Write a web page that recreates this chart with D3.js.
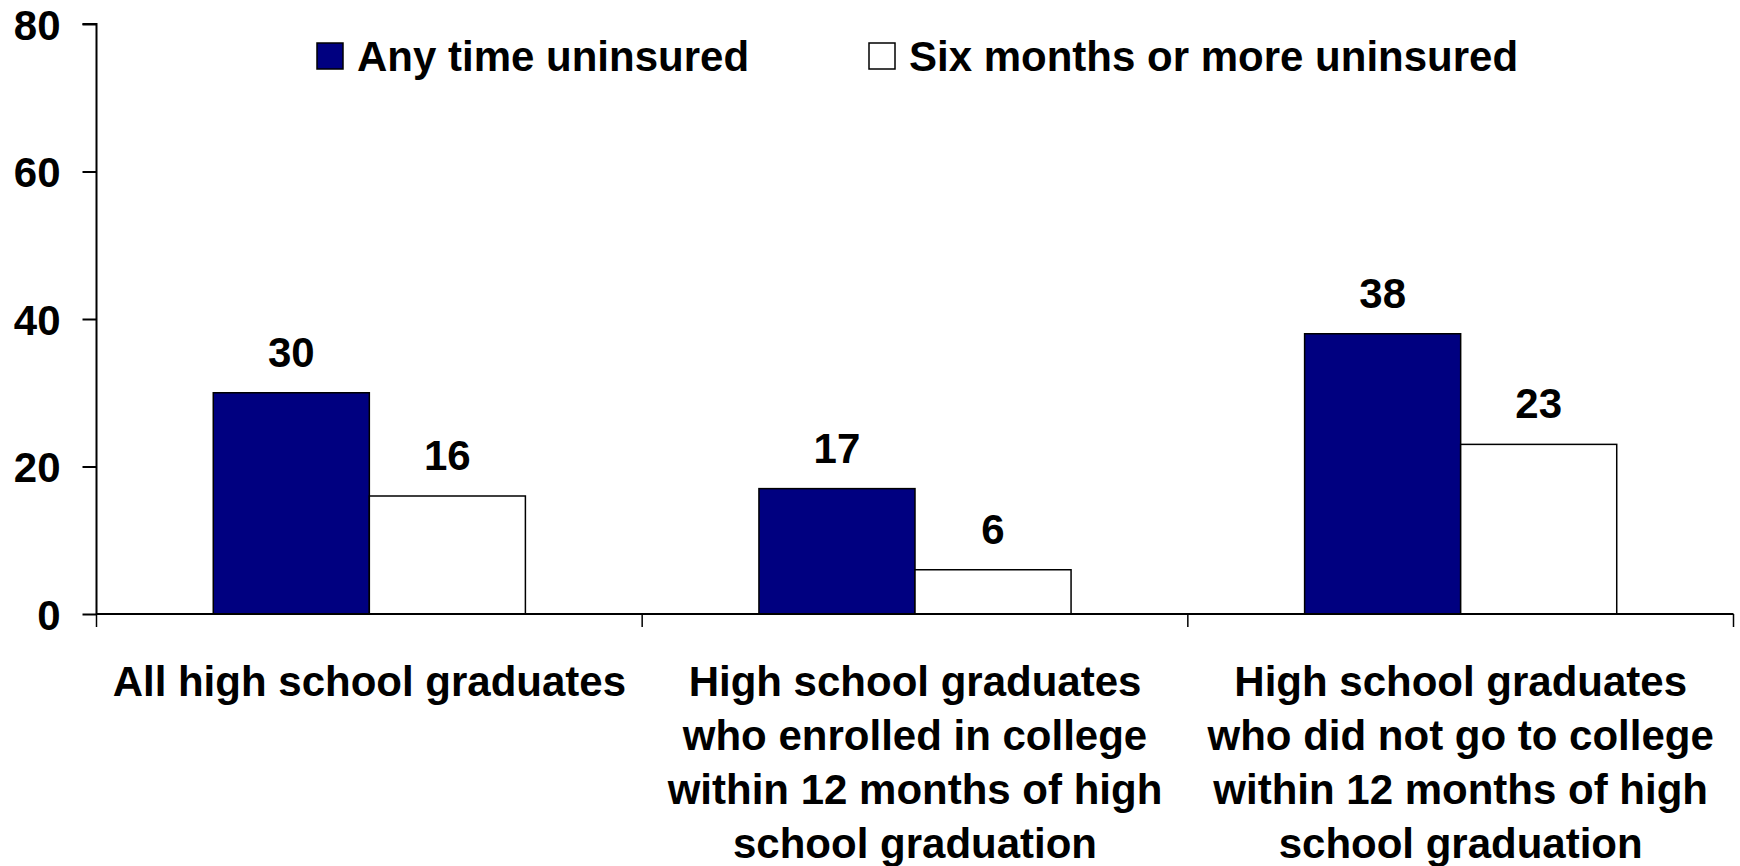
<!DOCTYPE html>
<html>
<head>
<meta charset="utf-8">
<script src="https://cdn.jsdelivr.net/npm/d3@7"></script>
<style>
  body { margin: 0; background: #fff; }
  svg text { font-family: "Liberation Sans", Arial, sans-serif; font-weight: bold; fill: #000; }
</style>
</head>
<body>
<svg id="chart" width="1740" height="866"></svg>
<script>
// data
const categories = ['All high school graduates', 'College within 12 months', 'No college within 12 months'];
const categoryLines = [
  ['All high school graduates'],
  ['High school graduates', 'who enrolled in college', 'within 12 months of high', 'school graduation'],
  ['High school graduates', 'who did not go to college', 'within 12 months of high', 'school graduation']
];
const seriesNames = ['Any time uninsured', 'Six months or more uninsured'];
const anyTime = [30, 17, 38];
const sixMonths = [16, 6, 23];
const yTicks = [0, 20, 40, 60, 80];

const colors = ['#000080', '#ffffff'];

const svg = d3.select('#chart');
const plotLeft = 96.5, plotRight = 1733.5, plotTop = 24, plotBottom = 614;

const y = d3.scaleLinear().domain([0, 80]).range([plotBottom, plotTop]);
const x = d3.scaleBand().domain(categories).range([plotLeft, plotRight]).padding(0);
const bw = x.bandwidth();
const gap = bw * 0.214;
const x1 = d3.scaleBand().domain(seriesNames).range([gap, bw - gap]).padding(0);

const rows = categories.map((c, i) => ({ cat: c, vals: [anyTime[i], sixMonths[i]] }));

// bars
const groups = svg.selectAll('.group').data(rows).enter().append('g')
    .attr('class', 'group')
    .attr('transform', d => `translate(${x(d.cat)},0)`);

groups.selectAll('rect').data(d => d.vals.map((v, k) => ({ v, k })))
  .enter().append('rect')
    .attr('x', d => x1(seriesNames[d.k]))
    .attr('y', d => y(d.v))
    .attr('width', x1.bandwidth())
    .attr('height', d => y(0) - y(d.v))
    .style('fill', d => colors[d.k])
    .style('stroke', '#000')
    .style('stroke-width', 1.5);

groups.selectAll('.val').data(d => d.vals.map((v, k) => ({ v, k })))
  .enter().append('text')
    .attr('class', 'val')
    .attr('x', d => x1(seriesNames[d.k]) + x1.bandwidth() / 2)
    .attr('y', d => y(d.v) - 26)
    .attr('text-anchor', 'middle')
    .style('font-size', '42px')
    .text(d => d.v);

// y axis
const yAxis = svg.append('g')
    .attr('transform', `translate(${plotLeft},0)`)
    .call(d3.axisLeft(y).tickValues(yTicks).tickSize(14).tickPadding(22));
yAxis.select('.domain').attr('stroke', '#000').attr('stroke-width', 2).attr('d', `M-14,${plotTop}H0V${plotBottom}`);
yAxis.selectAll('.tick line').attr('stroke-width', 2);
yAxis.selectAll('.tick text').style('font-size', '42px').attr('dy', '0.36em');

// x axis line and category separators
svg.append('line')
    .attr('x1', plotLeft).attr('x2', plotRight)
    .attr('y1', y(0)).attr('y2', y(0))
    .attr('stroke', '#000').attr('stroke-width', 2);

const seps = categories.map(c => x(c)).concat([x.range()[1]]);
svg.selectAll('.sep').data(seps).enter().append('line')
    .attr('class', 'sep')
    .attr('x1', d => d).attr('x2', d => d)
    .attr('y1', y(0)).attr('y2', y(0) + 13)
    .attr('stroke', '#000').attr('stroke-width', 1.5);

// category labels
const catLabels = svg.selectAll('.cat').data(categoryLines).enter().append('text')
    .attr('class', 'cat')
    .attr('text-anchor', 'middle')
    .style('font-size', '42px')
    .attr('transform', (d, i) => `translate(${x(categories[i]) + bw / 2},696)`);
catLabels.selectAll('tspan').data(d => d).enter().append('tspan')
    .attr('x', 0)
    .attr('y', (d, i) => i * 54)
    .text(d => d);

// legend
const legendX = [317, 869];
const legend = svg.selectAll('.legend').data(seriesNames).enter().append('g')
    .attr('class', 'legend')
    .attr('transform', (d, i) => `translate(${legendX[i]},43)`);
legend.append('rect')
    .attr('width', 26).attr('height', 26)
    .style('fill', (d, i) => colors[i])
    .style('stroke', '#000').style('stroke-width', 1.5);
legend.append('text')
    .attr('x', 40).attr('y', 28)
    .style('font-size', '42px')
    .text(d => d);
</script>
</body>
</html>
